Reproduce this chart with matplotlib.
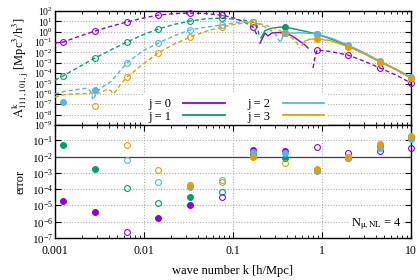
import numpy as np
import matplotlib
matplotlib.use("Agg")
import matplotlib.pyplot as plt
from matplotlib.lines import Line2D
from matplotlib.ticker import LogLocator, NullFormatter, LogFormatterMathtext, FixedLocator

plt.rcParams['font.family'] = ['Liberation Serif', 'DejaVu Serif']
plt.rcParams['mathtext.fontset'] = 'stix'

# ---------------- data ----------------
colors = ['#9400d3', '#009e73', '#56b4e9', '#e69f00']
labels = ['j = 0', 'j = 1', 'j = 2', 'j = 3']

# curves: k, log10|A|, sign (-1 dashed, +1 solid)
k_j0 = [0.00100, 0.00123, 0.00186, 0.00281, 0.00426, 0.00644, 0.00950, 0.0144, 0.0217, 0.0329, 0.0497, 0.0752, 0.105, 0.136, 0.168, 0.186,
        0.201, 0.229, 0.247, 0.274, 0.321, 0.384, 0.460, 0.537, 0.628, 0.697,
        0.793, 0.834, 0.879, 1.23, 1.96, 2.96, 4.48, 6.78, 10.0]
lA_j0 = [-1.09, -1.0, -0.45, 0.07, 0.53, 0.94, 1.3, 1.6, 1.75, 1.8, 1.75, 1.6, 1.3, 0.9, 0.45, -0.3,
         -1.1, -0.12, -0.41, -0.12, -0.08, -0.12, -0.4, -0.8, -1.2, -1.57,
         -3.5, -2.44, -1.76, -1.9, -2.25, -2.83, -3.5, -4.18, -4.95]
s_j0 = [-1]*16 + [1]*10 + [-1]*9

k_j1 = [0.00100, 0.00123, 0.00186, 0.00281, 0.00426, 0.00644, 0.00950, 0.0144, 0.0217, 0.0329, 0.0497, 0.0752, 0.105, 0.136, 0.168, 0.186, 0.196,
        0.206, 0.229, 0.261, 0.321, 0.384, 0.566, 0.879, 1.30, 1.96, 2.96, 4.48, 6.78, 10.0]
lA_j1 = [-4.66, -4.27, -3.4, -2.54, -1.75, -1.0, -0.33, 0.26, 0.7, 1.03, 1.25, 1.32, 1.2, 1.1, 0.95, 0.6, -0.3,
         -0.6, 0.1, 0.3, 0.43, 0.46, 0.15, -0.22, -0.75, -1.38, -2.1, -2.9, -3.65, -4.47]
s_j1 = [-1]*17 + [1]*13

k_j2 = [0.00100, 0.00130, 0.00168, 0.00229, 0.00254, 0.00267, 0.00289, 0.00320, 0.00426, 0.00524, 0.00644, 0.00950, 0.0144, 0.0217, 0.0329, 0.0497, 0.0752, 0.105, 0.136, 0.168, 0.212, 0.261, 0.304, 0.337,
        0.346, 0.364, 0.384, 0.566, 0.879, 1.30, 1.96, 2.96, 4.48, 6.78, 10.0]
lA_j2 = [-6.0, -5.75, -5.6, -5.45, -5.8, -6.6, -6.0, -5.5, -4.8, -3.9, -3.0, -1.9, -1.1, -0.4, 0.17, 0.45, 0.65, 0.85, 0.95, 0.95, 0.6, 0.2, -0.3, -1.0,
         -0.9, -0.4, -0.15, -0.1, -0.2, -0.65, -1.28, -2.0, -2.83, -3.6, -4.37]
s_j2 = [-1]*24 + [1]*11

k_j3 = [0.00100, 0.00130, 0.00168, 0.00229, 0.00320, 0.00365, 0.00394, 0.00426, 0.00448, 0.00485, 0.00552, 0.00644, 0.00950, 0.0144, 0.0217, 0.0329, 0.0497, 0.0752, 0.105, 0.136, 0.168, 0.229, 0.296, 0.384, 0.460, 0.524, 0.566,
        0.596, 0.644, 0.733, 0.879, 1.23, 1.96, 2.96, 4.48, 6.78, 10.0]
lA_j3 = [-6.3, -6.05, -6.0, -5.95, -5.9, -5.65, -5.55, -5.7, -6.0, -5.7, -5.0, -4.37, -3.2, -2.05, -1.2, -0.51, 0.05, 0.45, 0.72, 0.85, 0.9, 0.65, 0.3, -0.12, -0.6, -1.1, -1.6,
         -1.3, -0.9, -0.72, -0.70, -0.85, -1.44, -2.1, -2.9, -3.65, -4.45]
s_j3 = [-1]*27 + [1]*10

# markers
k_pts = [0.00123, 0.00281, 0.00644, 0.0144, 0.0329, 0.0752, 0.168, 0.384, 0.879, 1.96, 4.48, 10.0]
top_j0 = [-1.0, 0.07, 0.94, 1.6, 1.8, 1.6, 0.45, -0.12, -1.76, -2.25, -3.5, -4.95]
top_j1 = [-4.27, -2.54, -1.0, 0.26, 1.03, 1.32, 0.95, 0.46, -0.22, -1.38, -2.9, -4.47]
top_j2 = [-6.78, -5.6, -3.0, -1.1, 0.17, 0.65, 0.95, -0.15, -0.2, -1.28, -2.83, -4.37]
top_j3 = [None, -7.17, -4.37, -2.05, -0.51, 0.45, 0.9, -0.12, -0.70, -1.44, -2.9, -4.45]
topf_j0 = [0, 0, 0, 0, 0, 0, 0, 1, 0, 0, 0, 0]
topf_j1 = [0, 0, 0, 0, 0, 0, 0, 1, 1, 1, 1, 1]
topf_j2 = [1, 1, 0, 0, 0, 0, 0, 1, 1, 1, 1, 1]
topf_j3 = [0, 0, 0, 0, 0, 0, 0, 0, 1, 1, 1, 1]

err_j0 = [-4.7, -5.43, -6.66, -5.74, -4.94, -4.5, -1.57, -1.63, -1.39, -1.8, -1.63, -1.45]
err_j1 = [-1.26, -2.74, -3.9, -4.82, -4.45, -4.2, -1.82, -2.06, -2.8, -2.05, -1.35, -0.8]
err_j2 = [None, None, -2.18, -3.53, -3.84, -3.45, -1.69, -1.75, -2.85, -2.1, -1.45, -0.9]
err_j3 = [None, None, -1.26, -2.8, -3.72, -3.53, -2.0, -2.37, -2.75, -2.0, -1.2, -0.7]
errf_j0 = [1, 1, 0, 1, 1, 0, 1, 1, 0, 0, 0, 0]
errf_j1 = [1, 1, 0, 0, 1, 0, 1, 1, 1, 1, 1, 1]
errf_j2 = [0, 0, 0, 0, 1, 0, 1, 1, 1, 1, 1, 1]
errf_j3 = [0, 0, 0, 0, 1, 0, 1, 0, 1, 1, 1, 1]

curves = [(k_j0, lA_j0, s_j0), (k_j1, lA_j1, s_j1), (k_j2, lA_j2, s_j2), (k_j3, lA_j3, s_j3)]
tops = [(top_j0, topf_j0), (top_j1, topf_j1), (top_j2, topf_j2), (top_j3, topf_j3)]
errs = [(err_j0, errf_j0), (err_j1, errf_j1), (err_j2, errf_j2), (err_j3, errf_j3)]

# ---------------- figure ----------------
W, H = 420, 280
fig = plt.figure(figsize=(W/100, H/100), dpi=100)
L, R = 55, 411
ax1 = fig.add_axes([L/W, 1-125/H, (R-L)/W, 114/H])
ax2 = fig.add_axes([L/W, 1-238/H, (R-L)/W, 113/H])

FS = 8
dash = (0, (3.0, 2.0))

def plot_signed(ax, k, la, s, c):
    k = np.asarray(k); a = 10**np.asarray(la); s = np.asarray(s)
    start = 0
    n = len(k)
    for i in range(1, n+1):
        if i == n or s[i] != s[start]:
            ls = '-' if s[start] > 0 else dash
            ax.plot(k[start:i], a[start:i], color=c, lw=1.0, ls=ls, zorder=3)
            start = i

def plot_pts(ax, vals, fills, c, ms=4.2):
    for kk, v, f in zip(k_pts, vals, fills):
        if v is None:
            continue
        ax.plot([kk], [10**v], marker='o', ms=ms, mew=0.8, color=c,
                mfc=c if f else 'none', mec=c, ls='none', zorder=4, clip_on=False)

for j in range(4):
    plot_signed(ax1, *curves[j], colors[j])
    plot_pts(ax1, *tops[j], colors[j])
    plot_pts(ax2, *errs[j], colors[j])

ax2.axhline(1e-2, color='#404040', lw=0.9, zorder=2)

for ax in (ax1, ax2):
    ax.set_xscale('log')
    ax.set_yscale('log')
    ax.set_xlim(1e-3, 10)
    ax.tick_params(which='both', direction='in', top=True, right=True, labelsize=FS, pad=2)
    ax.tick_params(which='major', length=4, width=0.8)
    ax.tick_params(which='minor', length=2, width=0.6)
    ax.xaxis.set_major_locator(FixedLocator([1e-3, 1e-2, 1e-1, 1, 10]))
    ax.xaxis.set_minor_locator(LogLocator(base=10, subs=np.arange(2, 10)))
    ax.xaxis.set_minor_formatter(NullFormatter())
    for sp in ax.spines.values():
        sp.set_linewidth(1.0)
    ax.grid(True, which='major', color='#b0b0b0', ls=(0, (1, 1.5)), lw=0.8, zorder=0)

ax1.set_ylim(1e-9, 1e2)
ax1.yaxis.set_major_locator(FixedLocator([10.0**e for e in range(-9, 3)]))
ax1.yaxis.set_major_formatter(LogFormatterMathtext())
ax1.yaxis.set_minor_locator(LogLocator(base=10, subs=np.arange(2, 10)))
ax1.yaxis.set_minor_formatter(NullFormatter())
ax1.tick_params(labelbottom=False)
ax1.tick_params(axis='y', labelsize=7, pad=1.5)

ax2.set_ylim(1e-7, 10**-0.05)
ax2.yaxis.set_major_locator(FixedLocator([10.0**e for e in range(-7, 0)]))
ax2.yaxis.set_major_formatter(LogFormatterMathtext())
ax2.yaxis.set_minor_locator(LogLocator(base=10, subs=np.arange(2, 10)))
ax2.yaxis.set_minor_formatter(NullFormatter())
ax2.set_xticklabels(['0.001', '0.01', '0.1', '1', '10'])
ax2.tick_params(axis='x', pad=5, labelsize=FS+0.5)
ax2.tick_params(axis='y', pad=1.5)

ax1.set_ylabel(r'$\mathrm{A}^{\mathrm{k}}_{\mathrm{111,101,j}}$ [Mpc$^3$/h$^3$]', fontsize=FS+1, labelpad=2)
ax2.set_ylabel('error', fontsize=FS+1, labelpad=4)
ax2.set_xlabel('wave number k [h/Mpc]', fontsize=FS+1, labelpad=6)
fig.align_ylabels([ax1, ax2])

ax2.text(0.975, 0.05, r'N$_{\mathrm{\mu,NL}}$ = 4', transform=ax2.transAxes, ha='right', va='bottom', fontsize=FS+1,
         bbox=dict(facecolor='white', edgecolor='none', pad=0.5), zorder=5)

handles = [Line2D([0], [0], color=c, lw=1.3) for c in colors]
leg = ax1.legend(handles, labels, ncol=2, markerfirst=False, loc='lower right', bbox_to_anchor=(0.773, -0.035),
                 fontsize=FS+1, frameon=True, facecolor='white', edgecolor='none', framealpha=1, fancybox=False,
                 handlelength=3.3, handletextpad=1.0, columnspacing=1.8, labelspacing=0.05, borderpad=0.3,
                 borderaxespad=0.2)
leg.set_zorder(2.5)

fig.savefig('out.png', dpi=100)
